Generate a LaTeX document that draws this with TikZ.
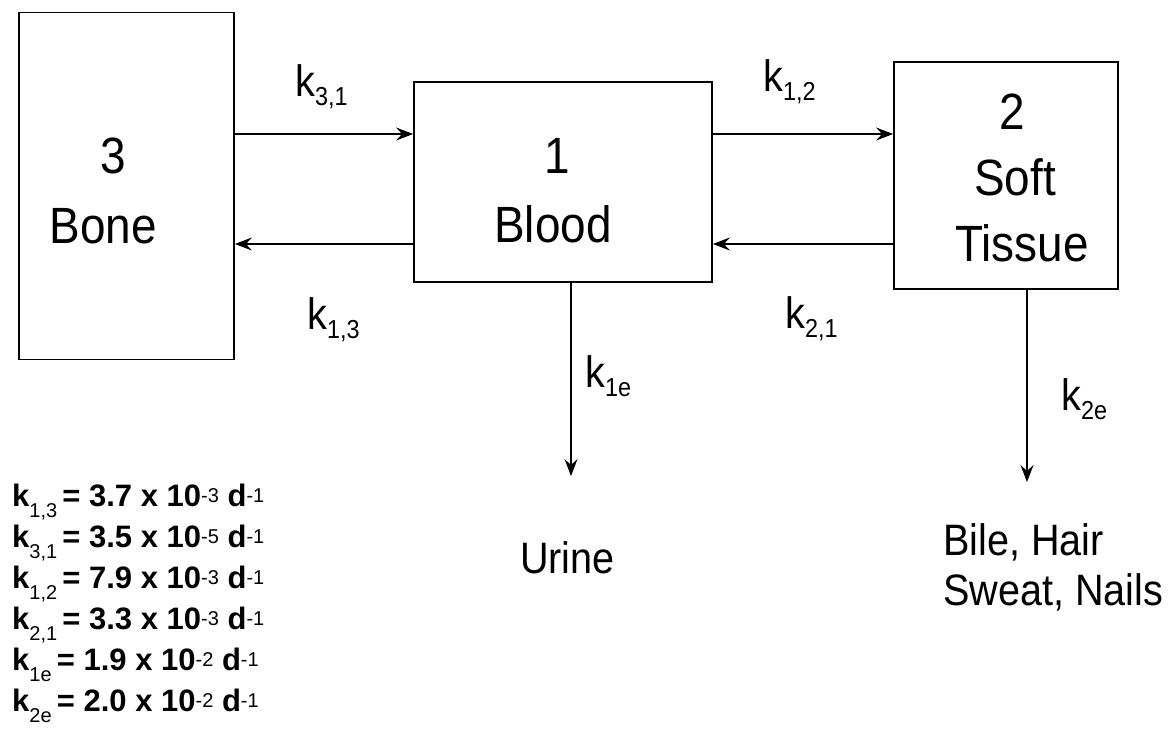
\documentclass[tikz,border=0pt]{standalone}
\usepackage{fontspec}
\usetikzlibrary{arrows.meta}
\newfontfamily\lsans{Liberation Sans}[FakeStretch=0.9]
\newfontfamily\lsansw{Liberation Sans}
\newcommand\fBig{\lsans\fontsize{51}{60}\selectfont}
\newcommand\fMed{\lsans\fontsize{44}{52}\selectfont}
\newcommand\fSub{\lsans\fontsize{26}{30}\selectfont}
\newcommand\fEq{\lsansw\bfseries\fontsize{31}{36}\selectfont}
\newcommand\fEqs{\lsansw\mdseries\fontsize{20}{22}\selectfont}
\newcommand\klab[1]{k\raisebox{-9pt}{\fSub #1}}
\newcommand\kline[3]{k\raisebox{-11pt}{\fEqs #1}\,= #2 x 10\raisebox{4pt}{\fEqs -#3}\ d\raisebox{4pt}{\fEqs -1}}
\begin{document}
\begin{tikzpicture}[x=1pt,y=-1pt,
  box/.style={draw, line width=1.8pt, inner sep=0pt},
  arr/.style={-{Stealth[length=17pt,width=13pt,inset=6pt]}, line width=1.6pt},
  big/.style={font=\fBig, anchor=base, inner sep=0pt},
  med/.style={font=\fMed, anchor=base west, inner sep=0pt},
  eqn/.style={font=\fEq, anchor=base west, inner sep=0pt}]
\useasboundingbox (0,0) rectangle (1170,741);
% compartments
\node[box, minimum width=215pt, minimum height=347pt] (bone) at (126.5,186) {};
\node[box, minimum width=298pt, minimum height=200pt] (blood) at (563,182) {};
\node[box, minimum width=224pt, minimum height=227pt] (soft) at (1006,175.5) {};
\node[big] (bone3) at (113,173) {3};
\node[big] (bonet) at (103,243) {Bone};
\node[big] (blood1) at (557,174) {1};
\node[big] (bloodt) at (553,242) {Blood};
\node[big] (soft2) at (1012,130) {2};
\node[big] (softa) at (1015,195) {Soft};
\node[big] (softb) at (1022,261) {Tissue};
% exchange arrows
\draw[arr] (bone.east |- 0,134) -- (blood.west |- 0,134);
\draw[arr] (blood.west |- 0,244) -- (bone.east |- 0,244);
\draw[arr] (blood.east |- 0,134) -- (soft.west |- 0,134);
\draw[arr] (soft.west |- 0,244) -- (blood.east |- 0,244);
% excretion
\coordinate (utip) at (571,476);
\coordinate (stip) at (1027,482);
\draw[arr] (blood.south -| utip) -- (utip);
\draw[arr] (soft.south -| stip) -- (stip);
% rate labels
\node[med] (k31) at (295,97) {\klab{3,1}};
\node[med] (k13) at (307,329) {\klab{1,3}};
\node[med] (k12) at (763,92) {\klab{1,2}};
\node[med] (k21) at (785,328) {\klab{2,1}};
\node[med] (k1e) at (585,387) {\klab{1e}};
\node[med] (k2e) at (1061,410) {\klab{2e}};
% outlets
\node[med] (urine) at (520,573) {Urine};
\node[med] (bile) at (943,555) {Bile, Hair};
\node[med] (sweat) at (943,605) {Sweat, Nails};
% constants
\node[eqn] (e1) at (12,506) {\kline{1,3}{3.7}{3}};
\node[eqn] (e2) at (12,547) {\kline{3,1}{3.5}{5}};
\node[eqn] (e3) at (12,588) {\kline{1,2}{7.9}{3}};
\node[eqn] (e4) at (12,629) {\kline{2,1}{3.3}{3}};
\node[eqn] (e5) at (12,670) {\kline{1e}{1.9}{2}};
\node[eqn] (e6) at (12,711) {\kline{2e}{2.0}{2}};
\end{tikzpicture}
\end{document}
